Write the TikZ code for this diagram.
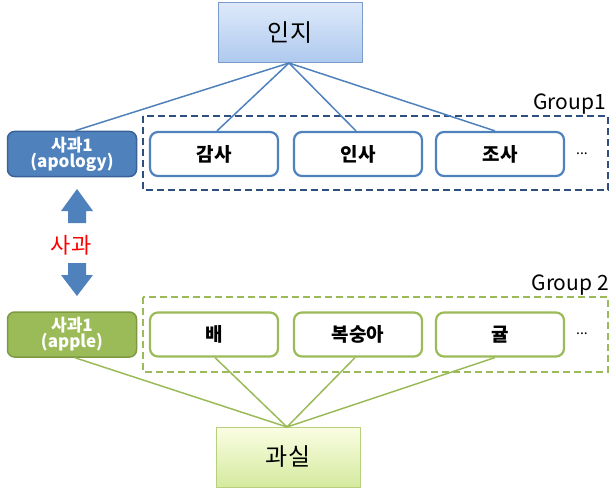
\documentclass[tikz,border=0pt]{standalone}
\usepackage{fontspec}
\setmainfont{Noto Sans CJK KR}
\definecolor{oblue}{HTML}{4F81BD}
\definecolor{obluedk}{HTML}{3A6299}
\definecolor{odash}{HTML}{2F4F7F}
\definecolor{ogreen}{HTML}{9BBB59}
\definecolor{ogreendk}{HTML}{7D9A42}
\definecolor{topblue}{HTML}{DDE9F9}
\definecolor{botblue}{HTML}{AEC9EF}
\definecolor{bordblue}{HTML}{7A9CCB}
\definecolor{topgreen}{HTML}{FBFDE3}
\definecolor{botgreen}{HTML}{D4EA9E}
\definecolor{bordgreen}{HTML}{B7D07E}
\tikzset{
  top/.style={draw, line width=1pt, minimum width=144pt, minimum height=60pt, inner sep=0pt, font=\fontsize{24}{26}\selectfont},
  itembox/.style={rounded corners=8pt, line width=2.2pt, fill=white, minimum width=128pt, minimum height=44pt, inner sep=0pt, font=\fontsize{19}{22}\selectfont\bfseries},
  sense/.style={rounded corners=7pt, line width=1.5pt, minimum width=129pt, minimum height=45pt, inner sep=0pt, text=white, align=center, font=\fontsize{17}{19}\selectfont\bfseries},
  conb/.style={oblue, line width=1.5pt},
  cong/.style={ogreen, line width=1.5pt},
  grp/.style={line width=2.5pt, dash pattern=on 7pt off 4pt},
  glabel/.style={font=\fontsize{21}{23}\selectfont, inner sep=0pt, anchor=base east},
}
\begin{document}
\begin{tikzpicture}[x=1pt,y=-1pt]
\useasboundingbox (0,0) rectangle (613,492);
% group boxes
\draw[grp, odash] (143,116) rectangle (608,190);
\draw[grp, ogreen] (143,297) rectangle (608,372);
\node[glabel] (g1) at (606,110) {Group1};
\node[glabel] (g2) at (609,290) {Group 2};
% top and bottom
\node[top, draw=bordblue, top color=topblue, bottom color=botblue] (inji) at (290,33) {인지};
\node[top, draw=bordgreen, top color=topgreen, bottom color=botgreen] (gwasil) at (288,457) {과실};
% sense nodes
\node[sense, draw=obluedk, fill=oblue] (apology) at (72,154) {사과1\\[-3pt](apology)};
\node[sense, draw=ogreendk, fill=ogreen] (apple) at (72,334.5) {사과1\\[-3pt](apple)};
% items
\node[itembox, draw=oblue] (gamsa) at (214,154) {감사};
\node[itembox, draw=oblue] (insa) at (358,154) {인사};
\node[itembox, draw=oblue] (josa) at (500,154) {조사};
\node[itembox, draw=ogreen] (bae) at (214,334.5) {배};
\node[itembox, draw=ogreen] (boksunga) at (358,334.5) {복숭아};
\node[itembox, draw=ogreen] (gyul) at (500,334.5) {귤};
\node[font=\fontsize{14}{16}\selectfont] (dots1) at (582,154) {...};
\node[font=\fontsize{14}{16}\selectfont] (dots2) at (582,334) {...};
% connectors
\coordinate (itop) at (289,63);
\coordinate (gtop) at (287,427);
\draw[conb] (itop) -- ([xshift=3pt]apology.north);
\draw[conb] (itop) -- ([xshift=3pt]gamsa.north);
\draw[conb] (itop) -- ([xshift=-2pt]insa.north);
\draw[conb] (itop) -- ([xshift=-5pt]josa.north);
\draw[cong] (gtop) -- ([xshift=3pt]apple.south);
\draw[cong] (gtop) -- ([xshift=1pt]bae.south);
\draw[cong] (gtop) -- ([xshift=-3pt]boksunga.south);
\draw[cong] (gtop) -- ([xshift=-5pt]gyul.south);
% arrows
\fill[oblue] (77,189) -- (93,211) -- (86,211) -- (86,223) -- (68,223) -- (68,211) -- (61,211) -- cycle;
\fill[oblue] (77,296) -- (93,275) -- (86,275) -- (86,263) -- (68,263) -- (68,275) -- (61,275) -- cycle;
\node[text=red, font=\fontsize{22}{24}\selectfont, inner sep=0pt] (sagwa) at (71,245) {사과};
\end{tikzpicture}
\end{document}
